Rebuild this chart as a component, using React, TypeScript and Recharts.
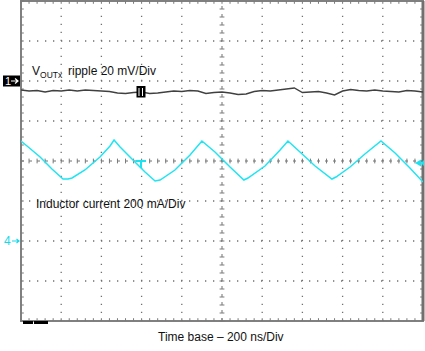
import React from "react";
import {
  LineChart,
  Line,
  XAxis,
  YAxis,
  ReferenceLine,
  ReferenceArea,
  ReferenceDot,
} from "recharts";

// scope screen: 10 time divisions x 8 vertical divisions
const TIME_DIVS = [0, 200, 400, 600, 800, 1000, 1200, 1400, 1600, 1800, 2000];
const VERT_DIVS = [-4, -3, -2, -1, 0, 1, 2, 3, 4];

// channel settings
const CH1_OFFSET = 2; // divisions
const CH1_MV_PER_DIV = 20;
const CH4_OFFSET = -2;
const CH4_MA_PER_DIV = 200;

// VOUTx ripple (mV, relative to ch1 marker), sampled every 40 ns
const SAMPLE_NS = 40;
const rippleMv = [
  -4.5, -5, -4.75, -5.5, -4.75, -5, -4.5, -5, -4.5, -4.75, -5, -5.25, -6,
  -6.25, -5.75, -5.5, -6.25, -6, -5.5, -5, -5.25, -4.75, -5, -6.25, -5.75,
  -5.5, -6, -6.75, -6.5, -5.25, -4.75, -5, -4.5, -4, -3.5, -5.75, -5.5,
  -5.25, -6, -7, -5, -4.25, -4.75, -5, -4.5, -5, -5.25, -5.5, -4.75, -5,
  -5.5,
];

// inductor current (mA)
const currentTimeNs = [
  0, 30, 95, 154, 209, 234, 254, 318, 393, 443, 463, 493, 557, 617, 667, 692,
  766, 841, 900, 965, 1040, 1109, 1129, 1214, 1289, 1328, 1388, 1463, 1547,
  1567, 1637, 1711, 1791, 1861, 1935, 2000,
];
const currentMa = [
  500, 475, 420, 360, 310, 310, 315, 355, 420, 475, 505, 470, 405, 345, 300,
  305, 355, 430, 500, 445, 370, 305, 315, 375, 455, 500, 445, 375, 310, 320,
  370, 435, 500, 440, 365, 295,
];

const TRIGGER_NS = 597;
const TRIGGER_LEVEL_MA = 390;

const rippleData = rippleMv.map((mv, i) => ({
  t: i * SAMPLE_NS,
  v: CH1_OFFSET + mv / CH1_MV_PER_DIV,
}));
const currentData = currentTimeNs.map((t, i) => ({
  t,
  v: CH4_OFFSET + currentMa[i] / CH4_MA_PER_DIV,
}));

const minorT = Array.from({ length: 51 }, (_, i) => i * 40);
const minorV = Array.from({ length: 41 }, (_, i) => -4 + i * 0.2);

const GRID = "#707070";
const TICK = "#7a7a7a";
const FONT = "'Liberation Sans', Arial, sans-serif";

const ChannelTick = (props: any) => {
  const { y, payload } = props;
  if (payload.value === CH1_OFFSET) {
    return (
      <g>
        <rect x={3} y={y - 5.5} width={17} height={11} fill="#000" />
        <text x={5} y={y + 4} fontSize={11} fontFamily={FONT} fill="#fff">
          1
        </text>
        <path d={`M11 ${y} H18 M15 ${y - 2.5} L18 ${y} L15 ${y + 2.5}`} stroke="#fff" strokeWidth={1.2} fill="none" />
      </g>
    );
  }
  return (
    <g>
      <text x={4} y={y + 4} fontSize={12} fontFamily={FONT} fill="#19d9e8">
        4
      </text>
      <path d={`M12 ${y} H19 M16.5 ${y - 2} L19 ${y} L16.5 ${y + 2}`} stroke="#19d9e8" strokeWidth={1.2} fill="none" />
    </g>
  );
};

const TriggerMark = (props: any) => {
  const { cx, cy } = props;
  return (
    <g>
      <rect x={cx - 4.5} y={cy - 6} width={9} height={11.5} fill="#000" />
      <line x1={cx - 2} x2={cx - 2} y1={cy - 4} y2={cy + 4} stroke="#fff" strokeWidth={1} />
      <line x1={cx + 1.5} x2={cx + 1.5} y1={cy - 4} y2={cy + 4} stroke="#fff" strokeWidth={1} />
    </g>
  );
};

const TriggerPosMark = (props: any) => {
  const { cx, cy } = props;
  return (
    <path d={`M${cx - 5} ${cy} H${cx + 5} M${cx} ${cy} V${cy + 7}`} stroke="#19e3f0" strokeWidth={2} fill="none" />
  );
};

const LevelMark = (props: any) => {
  const { cx, cy } = props;
  return (
    <path d={`M${cx - 8} ${cy} L${cx - 2} ${cy - 3.5} L${cx - 2} ${cy + 3.5} Z M${cx - 2} ${cy} L${cx + 1} ${cy - 3} L${cx + 1} ${cy + 3} Z`} fill="#19e3f0" />
  );
};

export default function App() {
  return (
    <div style={{ position: "absolute", left: 0, top: 0, width: 425, height: 351, background: "#fff" }}>
      <LineChart width={425} height={351} margin={{ top: 1, right: 2, bottom: 30, left: 0 }}>
        <XAxis dataKey="t" type="number" domain={[0, 2000]} hide allowDataOverflow />
        <YAxis
          type="number"
          domain={[-4, 4]}
          width={21}
          ticks={[CH1_OFFSET, CH4_OFFSET]}
          axisLine={false}
          tickLine={false}
          tick={<ChannelTick />}
          allowDataOverflow
        />
        {TIME_DIVS.slice(1, -1)
          .filter((t) => t !== 1000)
          .map((t) => (
            <ReferenceLine key={`gx${t}`} x={t} stroke={GRID} strokeWidth={1.3} strokeDasharray="1.3 6.7" />
          ))}
        {VERT_DIVS.slice(1, -1)
          .filter((v) => v !== 0)
          .map((v) => (
            <ReferenceLine key={`gy${v}`} y={v} stroke={GRID} strokeWidth={1.3} strokeDasharray="1.3 6.7" />
          ))}
        <ReferenceLine x={1000} stroke={GRID} strokeDasharray="3 5" />
        <ReferenceLine y={0} stroke={GRID} strokeDasharray="3 5" />
        {minorT.map((t) => (
          <ReferenceLine key={`ct${t}`} stroke={TICK} segment={[{ x: t, y: -0.06 }, { x: t, y: 0.06 }]} />
        ))}
        {minorT.map((t) => (
          <ReferenceLine key={`bt${t}`} stroke={TICK} segment={[{ x: t, y: -4 }, { x: t, y: -3.93 }]} />
        ))}
        {minorT.map((t) => (
          <ReferenceLine key={`tt${t}`} stroke={TICK} segment={[{ x: t, y: 3.93 }, { x: t, y: 4 }]} />
        ))}
        {minorV.map((v) => (
          <ReferenceLine key={`cv${v}`} stroke={TICK} segment={[{ x: 988, y: v }, { x: 1012, y: v }]} />
        ))}
        {minorV.map((v) => (
          <ReferenceLine key={`lv${v}`} stroke={TICK} segment={[{ x: 0, y: v }, { x: 14, y: v }]} />
        ))}
        {minorV.map((v) => (
          <ReferenceLine key={`rv${v}`} stroke={TICK} segment={[{ x: 1986, y: v }, { x: 2000, y: v }]} />
        ))}
        <ReferenceArea x1={0} x2={2000} y1={-4} y2={4} fill="none" stroke="#808080" strokeWidth={2} />
        <ReferenceLine x={2000} stroke="#707070" strokeWidth={3} />
        <Line
          data={rippleData}
          dataKey="v"
          stroke="#404040"
          strokeWidth={1.4}
          dot={false}
          isAnimationActive={false}
        />
        <Line
          data={currentData}
          dataKey="v"
          stroke="#1fe4f2"
          strokeWidth={1.5}
          dot={false}
          isAnimationActive={false}
        />
        <ReferenceDot
          x={TRIGGER_NS}
          y={CH1_OFFSET + rippleMv[15] / CH1_MV_PER_DIV}
          shape={<TriggerMark />}
        />
        <ReferenceDot x={TRIGGER_NS} y={0} shape={<TriggerPosMark />} />
        <ReferenceDot
          x={2000}
          y={CH4_OFFSET + TRIGGER_LEVEL_MA / CH4_MA_PER_DIV}
          shape={<LevelMark />}
        />
      </LineChart>
      <svg width={425} height={351} style={{ position: "absolute", left: 0, top: 0, pointerEvents: "none" }}>
        <text x={32} y={75} fontSize={12} fontFamily={FONT} fill="#111">
          V
          <tspan fontSize={8.5} dy={3}>OUTx</tspan>
          <tspan x={68} dy={-3}>ripple 20 mV/Div</tspan>
        </text>
        <text x={36} y={208} fontSize={12} fontFamily={FONT} fill="#111">
          Inductor current 200 mA/Div
        </text>
        <text x={158} y={341} fontSize={12} fontFamily={FONT} fill="#111">
          Time base – 200 ns/Div
        </text>
        <rect x={23} y={321} width={10} height={3} fill="#000" />
        <rect x={34} y={321} width={14} height={3} fill="#000" />
      </svg>
    </div>
  );
}
